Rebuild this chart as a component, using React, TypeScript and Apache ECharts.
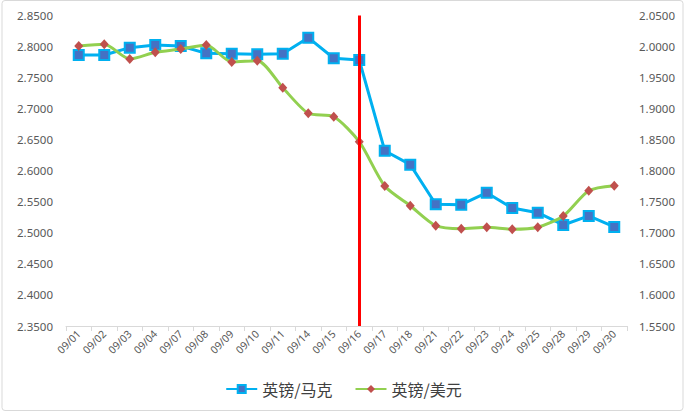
import React, { useEffect, useRef } from "react";
import * as echarts from "echarts";

const categories = [
  "09/01", "09/02", "09/03", "09/04", "09/07", "09/08", "09/09", "09/10", "09/11", "09/14", "09/15",
  "09/16", "09/17", "09/18", "09/21", "09/22", "09/23", "09/24", "09/25", "09/28", "09/29", "09/30",
];

const gbpDem = [
  2.7864, 2.7864, 2.7982, 2.8025, 2.8009, 2.7891, 2.7885, 2.7875, 2.7885, 2.8143, 2.7811,
  2.7783, 2.6323, 2.6098, 2.546, 2.5454, 2.5647, 2.54, 2.5325, 2.5127, 2.5272, 2.5095,
];

const gbpUsd = [
  2.0009, 2.0036, 1.98, 1.9907, 1.996, 2.0025, 1.9751, 1.9772, 1.9337, 1.8925, 1.887,
  1.8468, 1.7754, 1.7437, 1.7115, 1.7067, 1.709, 1.7058, 1.709, 1.7272, 1.7679, 1.776,
];

const seriesNames = ["英镑/马克", "英镑/美元"];
const eventDay = "09/16";

const axisLabelStyle = {
  color: "#595959",
  fontSize: 11.5,
  fontFamily: "Noto Sans",
};

export default function App() {
  const ref = useRef<HTMLDivElement>(null);
  useEffect(() => {
    if (!ref.current) return;
    const chart = echarts.init(ref.current, undefined, { renderer: "svg" });
    chart.setOption({
      animation: false,
      backgroundColor: "#ffffff",
      grid: { left: 66, right: 60, top: 15.5, bottom: 88 },
      graphic: [
        {
          type: "rect",
          shape: { x: 2, y: 0.5, width: 681, height: 410, r: 3 },
          style: { fill: "none", stroke: "#D9D9D9", lineWidth: 1 },
          silent: true,
        },
      ],
      legend: {
        bottom: 12,
        left: "center",
        itemWidth: 31,
        itemHeight: 10,
        itemGap: 22,
        textStyle: {
          color: "#404040",
          fontSize: 16,
          fontFamily: "Noto Sans CJK SC",
        },
        data: seriesNames,
      },
      xAxis: {
        type: "category",
        data: categories,
        boundaryGap: true,
        axisLine: { lineStyle: { color: "#D9D9D9", width: 1 } },
        axisTick: { show: true, length: 5, lineStyle: { color: "#D9D9D9" } },
        axisLabel: {
          ...axisLabelStyle,
          fontSize: 10.5,
          rotate: 45,
          interval: 0,
          margin: 6,
        },
      },
      yAxis: [
        {
          type: "value",
          min: 2.35,
          max: 2.85,
          interval: 0.05,
          position: "left",
          axisLine: { show: false },
          axisTick: { show: false },
          splitLine: { show: false },
          axisLabel: {
            ...axisLabelStyle,
            margin: 13,
            formatter: (v: number) => v.toFixed(4),
          },
        },
        {
          type: "value",
          min: 1.55,
          max: 2.05,
          interval: 0.05,
          position: "right",
          axisLine: { show: false },
          axisTick: { show: false },
          splitLine: { show: false },
          axisLabel: {
            ...axisLabelStyle,
            margin: 12,
            formatter: (v: number) => v.toFixed(4),
          },
        },
      ],
      series: [
        {
          name: seriesNames[0],
          type: "line",
          yAxisIndex: 0,
          data: gbpDem,
          symbol: "rect",
          symbolSize: 10,
          lineStyle: { color: "#00B0F0", width: 3 },
          itemStyle: { color: "#4472C4", borderColor: "#00B0F0", borderWidth: 2 },
          z: 3,
          markLine: {
            silent: true,
            symbol: "none",
            label: { show: false },
            lineStyle: { color: "#FF0000", width: 3, type: "solid" },
            data: [{ xAxis: eventDay }],
          },
        },
        {
          name: seriesNames[1],
          type: "line",
          yAxisIndex: 1,
          data: gbpUsd,
          smooth: 0.25,
          symbol: "diamond",
          symbolSize: [9, 10],
          lineStyle: { color: "#92D050", width: 3 },
          itemStyle: { color: "#C0504D", borderColor: "#C0504D", borderWidth: 0 },
          z: 4,
        },
      ],
    });
    return () => chart.dispose();
  }, []);
  return (
    <div
      ref={ref}
      style={{ position: "fixed", left: 0, top: 0, width: 687, height: 414 }}
    />
  );
}
